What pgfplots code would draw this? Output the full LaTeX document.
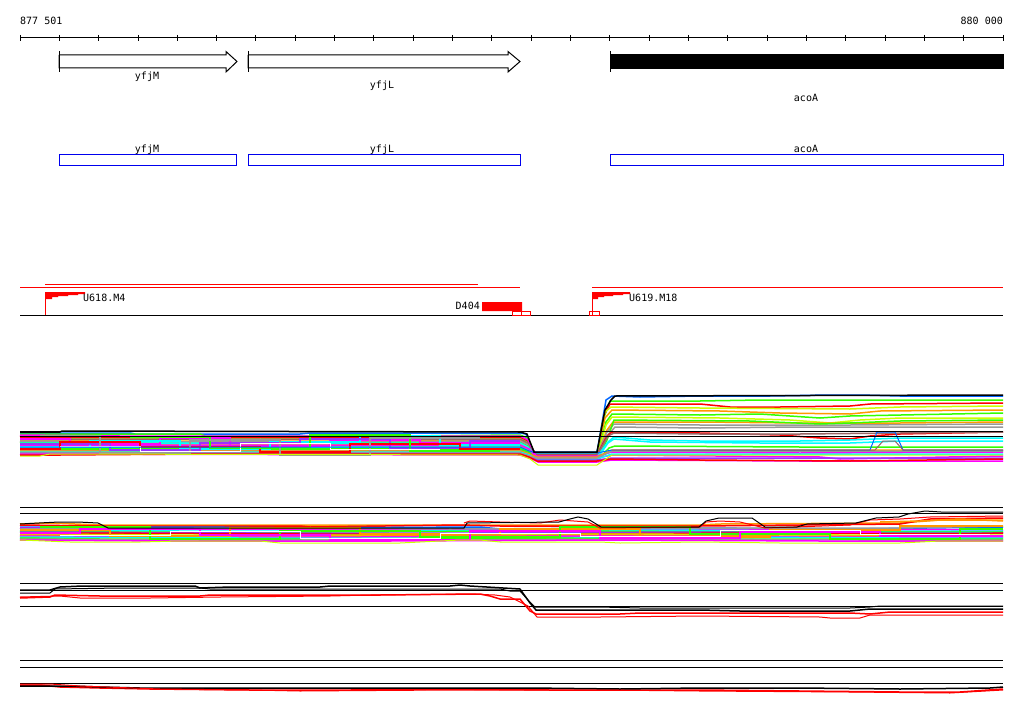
\documentclass[border=0pt]{standalone}
\usepackage{pgfplots}
\pgfplotsset{compat=1.18}
\usepackage{fontspec}
\newfontfamily\pix{DejaVu Sans Mono}

\definecolor{cblue}{HTML}{0066FF}
\definecolor{bbox}{HTML}{0000EE}
\definecolor{lime}{HTML}{33FF00}
\definecolor{ygreen}{HTML}{CCFF00}
\definecolor{orng}{HTML}{FF9900}
\definecolor{gry}{HTML}{999999}
\definecolor{purp}{HTML}{9933FF}
\definecolor{brwn}{HTML}{996666}
\definecolor{mag}{HTML}{FF00FF}
\definecolor{cyn}{HTML}{00FFFF}
\definecolor{rd}{HTML}{FF0000}

\pgfplotsset{
  ln/.style={mark=none, line width=1pt},
  tl/.style={mark=none, line width=1.5pt},
}
\tikzset{lbl/.style={font=\pix\fontsize{10}{12}\selectfont, inner sep=0pt}}

\begin{document}
\begin{tikzpicture}
\begin{axis}[scale only axis, width=1024pt, height=714pt,
  xmin=0, xmax=1024, ymin=0, ymax=714, y dir=reverse,
  hide axis, clip=false]

% frame of the page
\addplot[draw=none, mark=none] coordinates {(0,0)(1024,714)};

% ---- ruler
\addplot[ln, black] coordinates {(20,38)(1003,38)};
\addplot[black, only marks, mark=|, mark size=3pt, mark options={line width=1pt}] coordinates {
(20,38)(59.3,38)(98.6,38)(138.0,38)(177.3,38)(216.6,38)(255.9,38)(295.2,38)(334.6,38)
(373.9,38)(413.2,38)(452.5,38)(491.8,38)(531.2,38)(570.5,38)(609.8,38)(649.1,38)
(688.4,38)(727.8,38)(767.1,38)(806.4,38)(845.7,38)(885.0,38)(924.4,38)(963.7,38)(1003.0,38)};
\node[lbl, anchor=base west] at (axis cs:20,25) {877 501};
\node[lbl, anchor=base east] at (axis cs:1003,25) {880 000};

% ---- genes
\addplot[ln, black, fill=white] coordinates {(59,55)(226,55)(226,51.5)(237,61.5)(226,72)(226,68)(59,68)(59,55)};
\addplot[ln, black] coordinates {(59,51)(59,72)};
\addplot[ln, black, fill=white] coordinates {(248,55)(508,55)(508,51.5)(520,61.5)(508,72)(508,68)(248,68)(248,55)};
\addplot[ln, black] coordinates {(248,51)(248,72)};
\addplot[ln, black, fill=black] coordinates {(610,55)(1003,55)(1003,69)(610,69)(610,55)};
\addplot[ln, black] coordinates {(610,51)(610,72)};
\node[lbl, anchor=base] at (axis cs:147,80) {yfjM};
\node[lbl, anchor=base] at (axis cs:382,89) {yfjL};
\node[lbl, anchor=base] at (axis cs:806,102) {acoA};

% ---- annotation boxes
\addplot[ln, bbox] coordinates {(59,155)(236.7,155)(236.7,166)(59,166)(59,155)};
\addplot[ln, bbox] coordinates {(248,155)(520,155)(520,166)(248,166)(248,155)};
\addplot[ln, bbox] coordinates {(610,155)(1003,155)(1003,166)(610,166)(610,155)};
\node[lbl, anchor=base] at (axis cs:147,153) {yfjM};
\node[lbl, anchor=base] at (axis cs:382,153) {yfjL};
\node[lbl, anchor=base] at (axis cs:806,153) {acoA};

% ---- feature track
\addplot[ln, rd] coordinates {(45,284.5)(478,284.5)};
\addplot[ln, rd] coordinates {(20,287.5)(520,287.5)};
\addplot[ln, rd] coordinates {(592,287.5)(1003,287.5)};
\addplot[ln, black] coordinates {(20,315.5)(1003,315.5)};
\addplot[ln, rd] coordinates {(45,292)(45,315)};
\addplot[draw=none, fill=rd] coordinates {(45,292)(85,292)(85,294)(78,294)(78,295)(68,295)(68,296)(58,296)(58,297)(52,297)(52,299)(45,299)(45,292)};
\node[lbl, anchor=west] at (axis cs:83,298) {U618.M4};
\addplot[draw=none, fill=rd] coordinates {(482,302)(522,302)(522,311)(482,311)(482,302)};
\node[lbl, anchor=east] at (axis cs:480,306) {D404};
\addplot[ln, rd] coordinates {(512,311)(530,311)(530,315)(512,315)(512,311)};
\addplot[ln, rd] coordinates {(521,311)(521,315)};
\addplot[ln, rd] coordinates {(592,292)(592,315)};
\addplot[draw=none, fill=rd] coordinates {(592,292)(630,292)(630,294)(623,294)(623,295)(613,295)(613,296)(604,296)(604,297)(598,297)(598,299)(592,299)(592,292)};
\addplot[ln, rd] coordinates {(589,311)(599,311)(599,315)(589,315)(589,311)};
\node[lbl, anchor=west] at (axis cs:629,298) {U619.M18};

% ---- track 1
\addplot[tl, cblue] coordinates {(20,433)(130,433)(135,434)(300,434)(310,433)(520,433)(526,434)(533,452)(597,452)(606,400)(612,396)(640,397)(700,396)(770,396)(830,395)(860,395)(900,396)(1003,396)};
\addplot[tl, lime] coordinates {(20,434)(200,434)(205,436)(400,436)(520,435)(528,438)(535,454)(597,454)(603,420)(610,401)(700,401)(760,400)(1003,400)};
\addplot[tl, rd] coordinates {(20,436)(130,437)(330,437)(340,438)(520,437)(528,440)(535,455)(597,455)(604,415)(610,404)(700,404)(730,407)(780,407)(850,406)(870,404)(1003,403)};
\addplot[tl, ygreen] coordinates {(20,438)(250,438)(260,439)(520,438)(528,442)(536,456)(597,456)(605,412)(611,407)(700,408)(850,409)(900,407)(1003,406)};
\addplot[tl, orng] coordinates {(20,440)(150,440)(160,441)(400,441)(520,440)(528,444)(536,455)(597,455)(605,418)(612,410)(720,411)(780,413)(850,414)(880,411)(1003,410)};
\addplot[tl, lime] coordinates {(20,442)(100,443)(300,443)(520,442)(528,446)(537,457)(597,457)(606,422)(612,414)(700,415)(760,414)(820,418)(850,416)(1003,413)};
\addplot[tl, ygreen] coordinates {(20,444)(200,444)(210,445)(520,444)(528,448)(537,458)(597,458)(606,425)(612,417)(720,418)(790,420)(830,423)(860,420)(900,418)(1003,418)};
\addplot[tl, orng] coordinates {(20,446)(300,446)(520,446)(528,450)(537,456)(597,456)(607,430)(613,422)(700,422)(800,423)(900,423)(1003,422)};
\addplot[tl, gry] coordinates {(20,441)(220,442)(520,441)(529,445)(537,455)(597,455)(607,432)(614,424)(700,425)(850,425)(1003,424)};
\addplot[tl, lime] coordinates {(20,448)(520,448)(529,452)(537,460)(597,460)(607,440)(614,420)(750,421)(820,424)(850,423)(900,421)(1003,420)};
\addplot[tl, gry] coordinates {(20,450)(300,450)(400,451)(520,450)(529,453)(537,458)(597,458)(608,435)(615,427)(700,428)(800,427)(1003,427)};
\addplot[tl, rd] coordinates {(20,437)(250,437)(520,437)(528,441)(536,455)(597,455)(607,436)(612,432)(700,433)(780,435)(820,438)(850,439)(870,436)(900,434)(1003,432)};
\addplot[tl, brwn] coordinates {(20,439)(520,439)(528,443)(536,455)(597,455)(608,436)(614,433)(700,434)(800,434)(900,433)(1003,432)};
\addplot[tl, cyn] coordinates {(20,443)(520,443)(528,447)(537,457)(597,457)(608,442)(614,437)(650,440)(700,441)(800,441)(850,440)(900,438)(1003,438)};
\addplot[tl, cyn] coordinates {(20,447)(520,447)(529,451)(537,459)(597,459)(608,443)(614,439)(650,442)(760,443)(850,443)(900,441)(1003,441)};
\addplot[tl, lime] coordinates {(20,449)(520,449)(529,452)(538,461)(597,461)(609,448)(615,446)(800,447)(1003,447)};
\addplot[tl, mag] coordinates {(20,435)(120,436)(520,436)(528,440)(536,456)(597,456)(612,452)(800,453)(1003,452)};
\addplot[tl, mag] coordinates {(20,445)(520,445)(529,449)(537,458)(597,458)(612,455)(820,457)(840,459)(1003,456)};
\addplot[tl, orng] coordinates {(20,451)(520,451)(529,454)(537,457)(597,457)(612,450)(1003,450)};
\addplot[tl, cyn] coordinates {(20,452)(520,452)(529,455)(537,459)(597,459)(612,454)(1003,454)};
\addplot[tl, purp] coordinates {(20,453)(520,453)(529,456)(537,460)(597,460)(612,458)(1003,458)};
\addplot[tl, gry] coordinates {(20,453)(400,453)(520,453)(529,456)(537,458)(597,458)(612,451)(1003,451)};
\addplot[tl, mag] coordinates {(20,454)(520,455)(530,458)(538,462)(597,462)(612,460)(800,461)(1003,461)};
\addplot[tl, rd] coordinates {(20,455)(60,455)(200,454)(520,454)(529,457)(537,461)(597,461)(612,459)(700,460)(850,461)(1003,459)};
% patchy step lines, left part
\addplot[tl, mag] coordinates {(20,439)(70,439)(70,444)(160,444)(160,438)(230,438)(230,446)(330,446)(330,440)(420,440)(420,443)(520,443)};
\addplot[tl, cyn] coordinates {(20,447)(90,447)(90,441)(180,441)(180,449)(270,449)(270,442)(360,442)(360,436)(440,436)(440,445)(520,445)};
\addplot[tl, purp] coordinates {(20,444)(110,444)(110,450)(200,450)(200,443)(300,443)(300,439)(390,439)(390,448)(470,448)(470,441)(520,441)};
\addplot[tl, rd] coordinates {(20,449)(60,449)(60,442)(140,442)(140,447)(260,447)(260,452)(350,452)(350,444)(460,444)(460,449)(520,449)};
\addplot[tl, lime] coordinates {(130,437)(210,437)(210,448)(310,448)(310,435)(410,435)(410,451)(500,451)};
\addplot[tl, gry] coordinates {(40,436)(100,436)(100,453)(190,453)(190,440)(280,440)(280,455)(370,455)(370,438)(480,438)};
\addplot[ln, white] coordinates {(60,446)(140,446)(140,451)(240,451)(240,443)(330,443)(330,449)(440,449)};
\addplot[ln, ygreen] coordinates {(20,456)(40,456)(50,454)(520,455)(530,459)(538,465)(597,465)(612,455)(1003,455)};
\addplot[ln, cblue] coordinates {(20,447)(520,447)(529,451)(537,453)(597,453)(612,450)(870,450)(877,432)(895,432)(903,450)(1003,450)};
\addplot[ln, brwn] coordinates {(612,450)(875,450)(883,441)(895,441)(903,450)(1003,450)};
\addplot[tl, black] coordinates {(20,432)(60,432)(62,431)(520,432)(527,434)(534,452)(597,452)(605,410)(611,400)(615,396)(1003,395)};
\addplot[ln, black] coordinates {(20,431)(1003,431)};
\addplot[ln, black] coordinates {(20,436.5)(1003,436.5)};

% ---- track 2
\addplot[tl, orng] coordinates {(20,524)(50,523)(100,525)(400,525)(700,525)(720,524)(900,523)(940,520)(1003,520)};
\addplot[tl, rd] coordinates {(20,525)(100,526)(300,526)(310,527)(460,525)(500,526)(700,526)(900,524)(930,519)(1003,518)};
\addplot[tl, cblue] coordinates {(20,527)(200,527)(300,528)(480,527)(500,529)(700,528)(850,529)(1003,527)};
\addplot[tl, mag] coordinates {(20,528)(150,529)(350,529)(600,530)(800,529)(1003,530)};
\addplot[tl, gry] coordinates {(20,529)(250,528)(450,529)(700,528)(900,528)(1003,526)};
\addplot[tl, cyn] coordinates {(20,530)(180,531)(400,531)(650,530)(850,531)(1003,531)};
\addplot[tl, lime] coordinates {(20,531)(120,532)(330,532)(560,531)(760,532)(1003,532)};
\addplot[tl, purp] coordinates {(20,532)(260,533)(470,533)(690,532)(880,533)(1003,533)};
\addplot[tl, rd] coordinates {(20,533)(90,533)(300,534)(520,534)(760,533)(960,534)(1003,533)};
\addplot[tl, ygreen] coordinates {(20,534)(160,535)(420,535)(620,534)(840,535)(1003,535)};
\addplot[tl, orng] coordinates {(20,535)(220,536)(380,536)(600,535)(780,536)(1003,536)};
\addplot[tl, mag] coordinates {(20,536)(140,537)(360,537)(580,536)(800,537)(1003,537)};
\addplot[tl, cyn] coordinates {(20,537)(240,538)(480,538)(700,537)(900,538)(1003,538)};
\addplot[tl, lime] coordinates {(20,538)(100,539)(300,539)(520,538)(740,539)(1003,539)};
\addplot[tl, gry] coordinates {(20,539)(200,540)(440,540)(650,539)(860,540)(1003,540)};
\addplot[tl, mag] coordinates {(20,540)(170,541)(390,541)(610,540)(820,541)(1003,541)};
% patchy step lines
\addplot[tl, orng] coordinates {(20,530)(110,530)(110,536)(230,536)(230,528)(360,528)(360,534)(500,534)(500,529)(640,529)(640,537)(770,537)(770,530)(900,530)(900,526)(1003,526)};
\addplot[tl, lime] coordinates {(40,527)(150,527)(150,539)(280,539)(280,531)(420,531)(420,537)(560,537)(560,527)(690,527)(690,534)(830,534)(830,539)(960,539)(960,529)(1003,529)};
\addplot[tl, mag] coordinates {(20,533)(80,533)(80,529)(200,529)(200,535)(330,535)(330,540)(470,540)(470,531)(600,531)(600,538)(740,538)(740,532)(880,532)(880,536)(1003,536)};
\addplot[ln, white] coordinates {(60,535)(170,535)(170,531)(300,531)(300,538)(440,538)(440,533)(580,533)(580,536)(720,536)(720,530)(860,530)(860,534)(990,534)};
\addplot[ln, ygreen] coordinates {(20,540)(70,542)(140,542)(180,541)(260,541)(280,543)(400,543)(460,540)(480,540)(500,542)(600,542)(620,543)(700,542)(780,543)(900,543)(940,541)(1003,541)};
\addplot[tl, orng] coordinates {(880,522)(920,521)(960,519)(1003,521)};
\addplot[ln, rd] coordinates {(464,523)(470,521)(500,522)(540,523)(560,520)(588,522)(600,528)(700,527)(706,522)(720,521)(740,522)(765,528)(850,525)(870,520)(900,519)(930,517)(1003,516)};
\addplot[ln, black] coordinates {(20,524)(39,523)(59,522)(78,522)(98,523)(108,528)(464,528)(467,523)(559,522)(570,519)(578,517)(588,519)(601,527)(699,527)(706,521)(719,518)(752,518)(765,527)(797,527)(807,524)(856,523)(876,518)(899,517)(908,514)(925,511)(941,512)(1003,512)};
\addplot[ln, black] coordinates {(20,507.5)(1003,507.5)};
\addplot[ln, black] coordinates {(20,513.5)(1003,513.5)};

% ---- track 3
\addplot[ln, black] coordinates {(20,583.5)(1003,583.5)};
\addplot[ln, black] coordinates {(20,590.5)(1003,590.5)};
\addplot[ln, black] coordinates {(20,606)(1003,606)};
\addplot[ln, black] coordinates {(20,593)(50,593)(55,589)(120,588)(200,588)(210,589)(340,589)(500,589)(510,591)(520,591)(528,600)(535,607)(600,607)(640,608)(850,608)(870,607)(880,606)(1003,606)};
\addplot[tl, black] coordinates {(20,590)(50,590)(60,587)(82,586)(195,586)(200,588)(230,587)(320,587)(330,586)(450,586)(460,585)(470,586)(520,589)(530,603)(536,610)(700,610)(740,611)(850,611)(870,609)(1003,609)};
\addplot[tl, rd] coordinates {(20,598)(50,597)(55,595)(100,596)(200,596)(210,595)(380,595)(480,594)(490,596)(500,599)(520,599)(530,611)(536,614)(620,614)(640,613)(850,613)(870,614)(890,612)(1003,612)};
\addplot[ln, rd] coordinates {(20,597)(60,596)(80,598)(150,598)(220,597)(330,596)(370,595)(470,594)(495,595)(510,597)(528,606)(537,617)(600,617)(700,616)(820,617)(830,618)(860,618)(870,615)(1003,615)};

% ---- track 4
\addplot[ln, black] coordinates {(20,660)(1003,660)};
\addplot[ln, black] coordinates {(20,667)(1003,667)};
\addplot[ln, black] coordinates {(20,683)(1003,683)};
\addplot[tl, rd] coordinates {(20,685)(40,685)(60,687)(100,688)(150,689)(250,690)(350,690)(450,689)(550,690)(700,690)(800,691)(900,692)(960,692)(1003,689)};
\addplot[tl, black] coordinates {(20,686)(70,686)(100,687)(140,688)(200,688)(300,688)(400,688)(500,688)(530,688)(620,689)(700,688)(800,688)(900,689)(990,688)(1003,687)};
\addplot[ln, rd] coordinates {(20,684)(50,684)(80,686)(160,689)(250,690)(300,691)(450,690)(600,690)(700,691)(850,692)(950,693)(1003,690)};

\end{axis}
\end{tikzpicture}
\end{document}
